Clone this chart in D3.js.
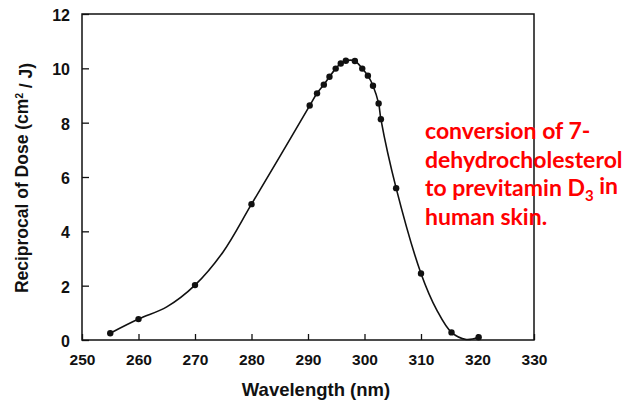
<!DOCTYPE html>
<html>
<head>
<meta charset="utf-8">
<script src="https://cdn.jsdelivr.net/npm/d3@7"></script>
<style>
  body { margin: 0; background: #fff; }
  svg { display: block; }
</style>
</head>
<body>
<div id="chart"></div>
<script>
// measured points (dots)
const dotWavelength = [255, 260, 270, 280, 290.3, 291.6, 292.8, 293.8, 294.9, 295.8, 296.7, 298.3, 299.6, 300.6, 301.5, 302.5, 302.9, 305.6, 310, 315.4, 320.2];
const dotDose = [0.25, 0.77, 2.02, 5.0, 8.63, 9.08, 9.4, 9.69, 9.99, 10.18, 10.28, 10.27, 9.99, 9.73, 9.36, 8.71, 8.13, 5.59, 2.45, 0.28, 0.1];

// extra points the drawn curve passes through (no dot)
const curveWavelength = [265, 275, 285, 312.8, 318];
const curveDose = [1.22, 3.25, 6.75, 1.1, 0.02];

const xTicks = [250, 260, 270, 280, 290, 300, 310, 320, 330];
const yTicks = [0, 2, 4, 6, 8, 10, 12];

const noteLines = ['conversion of 7-', 'dehydrocholesterol', 'to previtamin D', 'human skin.'];

const width = 633, height = 403;
const margin = {top: 14, right: 99, bottom: 63, left: 82};

const svg = d3.select('#chart').append('svg')
  .attr('width', width)
  .attr('height', height);

const x = d3.scaleLinear().domain([250, 330]).range([margin.left, width - margin.right]);
const y = d3.scaleLinear().domain([0, 12]).range([height - margin.bottom, margin.top]);

// frame
svg.append('rect')
  .attr('x', x(250)).attr('y', y(12))
  .attr('width', x(330) - x(250)).attr('height', y(0) - y(12))
  .attr('fill', 'none').attr('stroke', '#111').attr('stroke-width', 1.5);

// axes with inward ticks
const xAxis = svg.append('g')
  .attr('transform', 'translate(0,' + y(0) + ')')
  .call(d3.axisBottom(x).tickValues(xTicks).tickSize(-6).tickPadding(14).tickSizeOuter(0));
const yAxis = svg.append('g')
  .attr('transform', 'translate(' + x(250) + ',0)')
  .call(d3.axisLeft(y).tickValues(yTicks).tickSize(-7).tickPadding(12).tickSizeOuter(0));

[xAxis, yAxis].forEach(g => {
  g.select('.domain').remove();
  g.selectAll('.tick line').attr('stroke', '#111').attr('stroke-width', 1.3);
  g.selectAll('.tick text')
    .attr('fill', '#111')
    .style('font-family', 'Liberation Sans, Arial, sans-serif')
    .style('font-weight', 'bold')
    .style('font-size', '15.5px');
});
yAxis.selectAll('.tick text').attr('dy', '0.4em').style('font-size', '16px');

// axis titles
svg.append('text')
  .attr('x', 316).attr('y', 396)
  .attr('text-anchor', 'middle')
  .style('font-family', 'Liberation Sans, Arial, sans-serif')
  .style('font-weight', 'bold')
  .style('font-size', '18.5px')
  .attr('fill', '#111')
  .text('Wavelength (nm)');

const yTitle = svg.append('text')
  .attr('transform', 'translate(28,178) rotate(-90)')
  .attr('text-anchor', 'middle')
  .style('font-family', 'Liberation Sans, Arial, sans-serif')
  .style('font-weight', 'bold')
  .style('font-size', '17.5px')
  .attr('fill', '#111');
yTitle.append('tspan').text('Reciprocal of Dose (cm');
yTitle.append('tspan').attr('dy', '-0.5em').style('font-size', '10px').text('2');
yTitle.append('tspan').attr('dy', '0.5em').text(' / J)');

// curve
const dots = dotWavelength.map((w, i) => ({w: w, v: dotDose[i]}));
const curvePts = dots.concat(curveWavelength.map((w, i) => ({w: w, v: curveDose[i]})))
  .sort((a, b) => a.w - b.w);

const line = d3.line()
  .x(d => x(d.w))
  .y(d => y(d.v))
  .curve(d3.curveCatmullRom.alpha(0.5));

svg.append('path')
  .datum(curvePts)
  .attr('d', line)
  .attr('fill', 'none')
  .attr('stroke', '#111')
  .attr('stroke-width', 1.6);

svg.selectAll('circle.dot')
  .data(dots)
  .enter()
  .append('circle')
  .attr('class', 'dot')
  .attr('cx', d => x(d.w))
  .attr('cy', d => y(d.v))
  .attr('r', 3.2)
  .attr('fill', '#111');

// red note
const note = svg.append('g')
  .style('font-family', 'Lato, Open Sans, sans-serif')
  .style('font-weight', 'bold')
  .style('font-size', '23px')
  .attr('fill', '#ff0000');

noteLines.forEach((t, i) => {
  const txt = note.append('text')
    .attr('x', 425)
    .attr('y', 139 + i * 28.5);
  txt.append('tspan').text(t);
  if (i === 2) {
    txt.append('tspan').attr('dy', '0.3em').style('font-size', '15px').text('3');
    txt.append('tspan').attr('dy', '-0.3em').text(' in');
  }
});
</script>
</body>
</html>
